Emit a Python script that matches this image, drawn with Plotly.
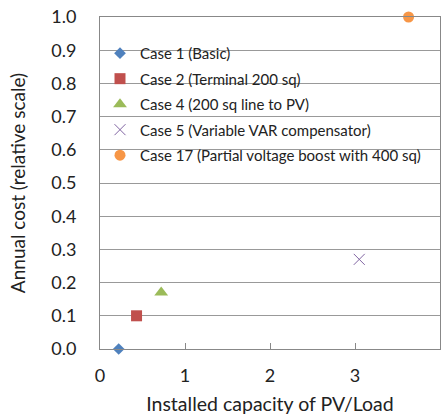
import plotly.graph_objects as go

names = ["Case 1 (Basic)", "Case 2 (Terminal 200 sq)", "Case 4 (200 sq line to PV)",
         "Case 5 (Variable VAR compensator)", "Case 17 (Partial voltage boost with 400 sq)"]
x_vals = [0.22, 0.43, 0.72, 3.05, 3.63]
y_vals = [0.0, 0.10, 0.17, 0.27, 1.0]
colors = ["#4F81BD", "#C0504D", "#9BBB59", "#8064A2", "#F79646"]
symbols = ["diamond", "square", "triangle-up", "x-thin", "circle"]
sizes = [9, 11, 12, 11, 11]

fig = go.Figure()
for i in range(len(names)):
    fig.add_trace(go.Scatter(
        x=[x_vals[i]], y=[y_vals[i]], mode="markers", name=names[i],
        legendgroup=str(i), cliponaxis=False,
        marker=dict(color=colors[i], symbol=symbols[i], size=sizes[i],
                    line=dict(color=colors[i], width=1 if symbols[i] == "x-thin" else 0)),
    ))

# white legend box region (covers gridlines, leaves short stubs at each side)
fig.add_shape(type="rect", xref="paper", yref="paper", x0=0.043, x1=0.968, y0=0.52, y1=0.975,
              fillcolor="white", line=dict(width=0), layer="between")

font = "Lato, Open Sans, sans-serif"
fig.update_layout(
    width=445, height=418,
    margin=dict(l=100, r=5, t=17, b=69),
    plot_bgcolor="white", paper_bgcolor="white",
    font=dict(family=font, color="#222"),
    showlegend=True,
    legend=dict(x=0.0, y=0.94, xanchor="left", yanchor="top", bgcolor="rgba(0,0,0,0)",
                font=dict(size=15, family=font), tracegroupgap=3,
                itemwidth=30),
    xaxis=dict(range=[0, 4], dtick=1, showgrid=False, showline=True, linecolor="#888",
               linewidth=1, mirror=True, ticks="inside", ticklen=6, tickcolor="#888",
               tickfont=dict(size=18), zeroline=False, ticklabelstandoff=10,
               title=dict(text="Installed capacity of PV/Load", font=dict(size=19.5), standoff=12)),
    yaxis=dict(range=[0, 1], dtick=0.1, tickformat=".1f", showgrid=True, gridcolor="#999",
               showline=True, linecolor="#888", linewidth=1, mirror=True, zeroline=False,
               ticks="", tickfont=dict(size=18), ticklabelstandoff=19,
               title=dict(text="Annual cost (relative scale)", font=dict(size=19), standoff=20)),
)
fig.write_html("out.html")
